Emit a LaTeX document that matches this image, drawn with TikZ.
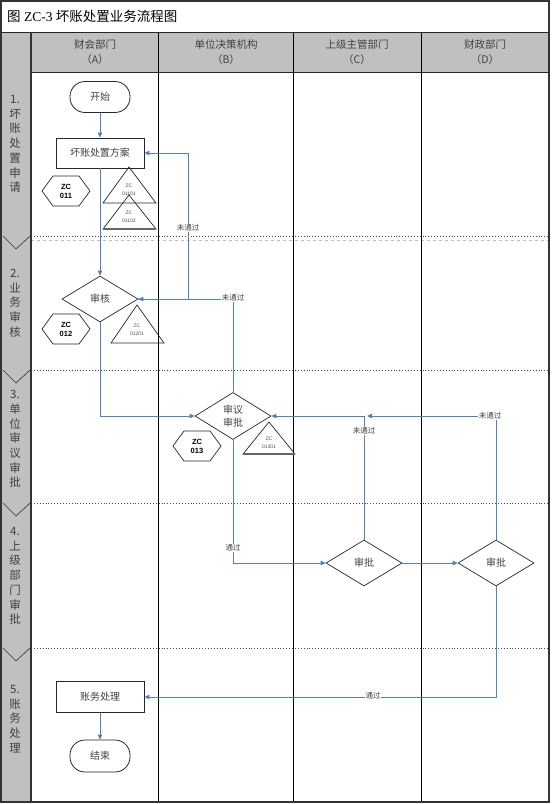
\documentclass[tikz,border=0pt]{standalone}
\usepackage{fontspec}
\setmainfont{Liberation Serif}
\newfontfamily\cjk{Noto Sans CJK SC}
\newfontfamily\lsans{Liberation Sans}
\usetikzlibrary{shapes.geometric,arrows.meta,calc}
\definecolor{flow}{RGB}{79,129,189}
\definecolor{lanegray}{RGB}{192,192,192}
\definecolor{txt}{RGB}{64,64,64}
\begin{document}
\begin{tikzpicture}[x=1pt,y=-1pt,
  shp/.style={draw=black!85,line width=0.7pt},
  procbox/.style={draw=black!85,line width=0.8pt,minimum width=88,minimum height=30,inner sep=0,font=\cjk\fontsize{10}{12}\selectfont,text=txt},
  term/.style={draw=black!85,line width=0.8pt,rounded corners=15,minimum width=60,minimum height=31,inner sep=0,font=\cjk\fontsize{10}{12}\selectfont,text=txt},
  decide/.style={draw=black!85,line width=0.7pt,diamond,aspect=1.65,minimum width=76,minimum height=46,inner sep=0,font=\cjk\fontsize{10}{13}\selectfont,text=txt,align=center},
  hexlbl/.style={font=\lsans\bfseries\fontsize{7.5}{9}\selectfont,align=center,inner sep=0},
  trilbl/.style={font=\lsans\fontsize{5}{8}\selectfont,align=center,inner sep=0,text=black!70},
  stagelbl/.style={font=\cjk\fontsize{11.5}{14.7}\selectfont,align=center,inner sep=0,text=txt},
  headlbl/.style={font=\cjk\fontsize{10.5}{15}\selectfont,align=center,inner sep=0,text=txt},
  flowline/.style={draw=flow,line width=1pt,-{Triangle[length=5pt,width=4.5pt]}},
  flowlbl/.style={font=\cjk\fontsize{7.5}{9}\selectfont,fill=white,inner sep=0.8pt,text=txt},
  sep/.style={draw=black!70,line width=0.9pt,dotted}
]
\useasboundingbox (0,0) rectangle (554,804);
% fills
\fill[lanegray] (1,32) rectangle (31,802);
\fill[lanegray] (31,32) rectangle (549,72);
% separators
\foreach \yy in {236,370,503,648}{
  \draw[sep] (31,\yy) -- (549,\yy);
  \draw[black!80,line width=0.6pt] (3,\yy) -- (16,\yy+13) -- (30,\yy);
}
\draw[black!25,dashed,line width=0.4pt] (31,240) -- (549,240);
% grid lines
\foreach \xx in {158,293,421}{\draw[black,line width=0.8pt] (\xx,32) -- (\xx,802);}
\draw[black!85,line width=0.9pt] (31,72) -- (549,72);
\draw[black!85,line width=1pt] (1,32) -- (549,32);
\draw[black!80,line width=1.6pt] (31,32) -- (31,802);
\draw[black!80,line width=1.6pt] (1,1) rectangle (549,802);
% title
\node[anchor=west,inner sep=0,font=\fontsize{13.5}{16}\selectfont] (title) at (7,16) {{\cjk 图} ZC-3 {\cjk 坏账处置业务流程图}};
% headers
\node[headlbl] (hA) at (95,52) {财会部门\\（A）};
\node[headlbl] (hB) at (226,52) {单位决策机构\\（B）};
\node[headlbl] (hC) at (357,52) {上级主管部门\\（C）};
\node[headlbl] (hD) at (485,52) {财政部门\\（D）};
% stage labels
\node[stagelbl] (s1) at (15,144) {1.\\坏\\账\\处\\置\\申\\请};
\node[stagelbl] (s2) at (15,303) {2.\\业\\务\\审\\核};
\node[stagelbl] (s3) at (15,439) {3.\\单\\位\\审\\议\\审\\批};
\node[stagelbl] (s4) at (15,576) {4.\\上\\级\\部\\门\\审\\批};
\node[stagelbl] (s5) at (15,719) {5.\\账\\务\\处\\理};
% nodes
\node[term] (start) at (100,97) {开始};
\node[procbox] (plan) at (100,153) {坏账处置方案};
\node[decide] (audit) at (100,299) {审核};
\node[decide,minimum width=76,minimum height=47] (review) at (233,416) {审议\\审批};
\node[decide] (apC) at (364,563) {审批};
\node[decide] (apD) at (496,563) {审批};
\node[procbox,minimum height=31] (acct) at (100,697) {账务处理};
\node[term,minimum height=32] (finish) at (100,756) {结束};
% hexagons
\node[hexlbl] (h1) at (66,191) {ZC\\011};
\draw[shp] ($(h1.center)+(-24,0)$) -- ++(11,-15) -- ++(26,0) -- ++(11,15) -- ++(-11,15) -- ++(-26,0) -- cycle;
\node[hexlbl] (h2) at (66,329) {ZC\\012};
\draw[shp] ($(h2.center)+(-24,0)$) -- ++(11,-15) -- ++(26,0) -- ++(11,15) -- ++(-11,15) -- ++(-26,0) -- cycle;
\node[hexlbl] (h3) at (197,446) {ZC\\013};
\draw[shp] ($(h3.center)+(-24,0)$) -- ++(11,-15) -- ++(26,0) -- ++(11,15) -- ++(-11,15) -- ++(-26,0) -- cycle;
% triangles
\draw[shp] (129,167) -- (156,203) -- (103,203) -- cycle;
\node[trilbl] (t1) at (129,190) {ZC\\01101};
\draw[shp] (129,195) -- (156,229) -- (103,229) -- cycle;
\draw[black!60,line width=1.4pt] (103,229) -- (156,229);
\node[trilbl] (t2) at (129,217) {ZC\\01102};
\draw[shp] (137,305) -- (164,343) -- (111,343) -- cycle;
\node[trilbl] (t3) at (137,330) {ZC\\01201};
\draw[shp] (269,422) -- (295,454) -- (243,454) -- cycle;
\draw[black!60,line width=1.4pt] (243,454) -- (295,454);
\node[trilbl] (t4) at (269,443) {ZC\\01301};
% connectors
\coordinate (jC) at (367,416);
\draw[flowline] (start) -- (plan);
\draw[flowline] (plan) -- (audit);
\draw[flowline] (audit.south) |- (review.west);
\draw[flowline] (audit.east) -- (188,299) |- (plan.east);
\node[flowlbl] (l1) at (188,228) {未通过};
\draw[flowline] (review.north) |- (audit.east);
\node[flowlbl] (l2) at (233,298) {未通过};
\draw[flowline] (review.south) |- (apC.west);
\node[flowlbl] (l3) at (233,548) {通过};
\draw[flowline] (apC) -- (apD);
\draw[flowline] (apC.north) |- (review.east);
\node[flowlbl] (l4) at (364,431) {未通过};
\draw[flowline] (apD.north) |- (jC);
\node[flowlbl] (l5) at (490,416) {未通过};
\draw[flowline] (apD.south) |- (acct.east);
\node[flowlbl] (l6) at (373,696) {通过};
\draw[flowline] (acct) -- (finish);
\end{tikzpicture}
\end{document}
